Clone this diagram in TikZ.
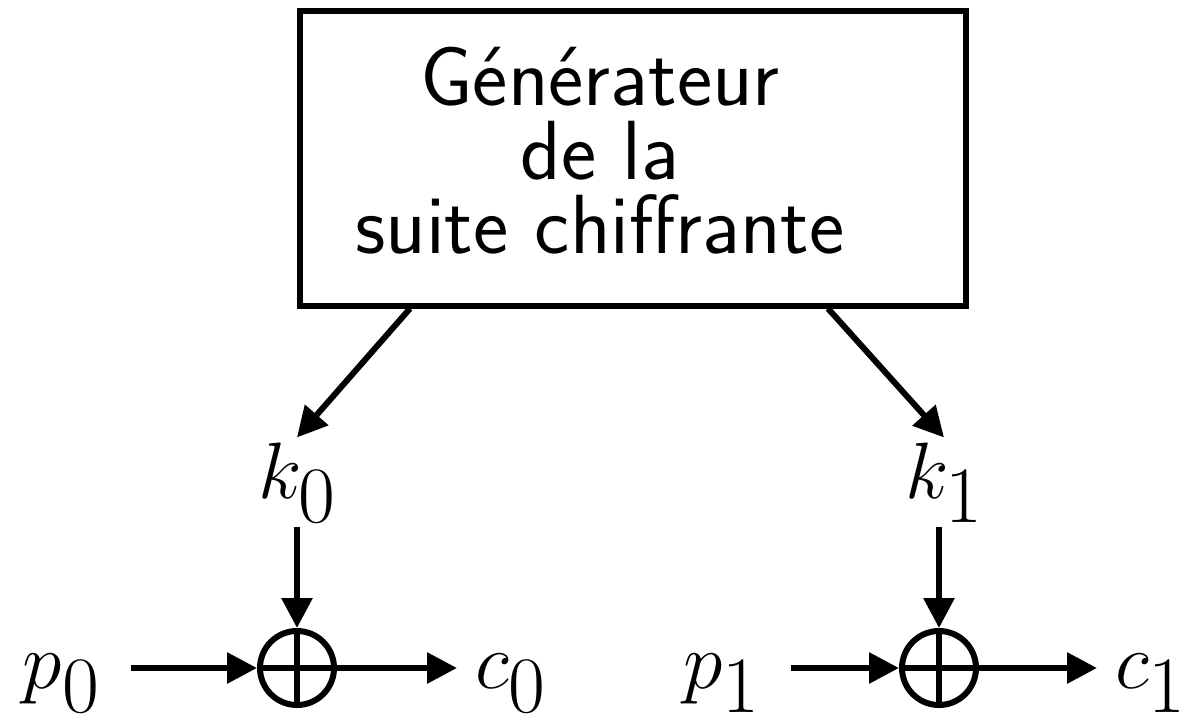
\RequirePackage{fix-cm}
\documentclass[tikz,border=0pt]{standalone}
\usepackage{tikz}
\usetikzlibrary{shapes.geometric,arrows.meta,positioning}
\DeclareMathSizes{80}{80}{80}{60}

\begin{document}
\begin{tikzpicture}[
    x=1pt,y=-1pt,
    line width=6pt,
    gen/.style={draw,rectangle,minimum width=666pt,minimum height=295pt},
    gentext/.style={inner sep=0pt,align=center,anchor=base,
      font=\fontsize{84}{74}\selectfont\sffamily},
    var/.style={inner sep=2pt,anchor=base west,font=\fontsize{80}{80}\selectfont},
    xor/.style={draw,circle,minimum size=74pt,inner sep=0pt},
    arrow/.style={-{Triangle[length=30pt,width=30pt]}},
    into/.style={arrow,shorten <=26pt},
    outof/.style={arrow,shorten >=13pt}
  ]
    \useasboundingbox (0,0) rectangle (1188,718);
    \node[gen] (gen) at (633,158) {};
    \node[gentext] (gentxt) at (600,253) {G\'en\'erateur\\de la~\\suite chiffrante};
    \node[var] (k0) at (253,498) {$k_0$};
    \node[var] (k1) at (900,498) {$k_1$};
    \node[xor] (x0) at (297,668) {};
    \node[xor] (x1) at (939,668) {};
    \node[var] (p0) at (18,688) {$p_0$};
    \node[var] (c0) at (470,688) {$c_0$};
    \node[var] (p1) at (678,688) {$p_1$};
    \node[var] (c1) at (1110,688) {$c_1$};
    % croix des xor
    \draw (x0.north) -- (x0.south) (x0.west) -- (x0.east);
    \draw (x1.north) -- (x1.south) (x1.west) -- (x1.east);
    \draw[arrow] ([xshift=-223pt]gen.south) -- (k0.north);
    \draw[arrow] ([xshift=195pt]gen.south) -- (k1.north);
    \draw[arrow] (k0.south -| x0) -- (x0.north);
    \draw[arrow] (k1.south -| x1) -- (x1.north);
    \draw[into] (p0.east |- x0) -- (x0.west);
    \draw[outof] (x0.east) -- (c0.west |- x0);
    \draw[into] (p1.east |- x1) -- (x1.west);
    \draw[outof] (x1.east) -- (c1.west |- x1);
  \end{tikzpicture}
\end{document}
